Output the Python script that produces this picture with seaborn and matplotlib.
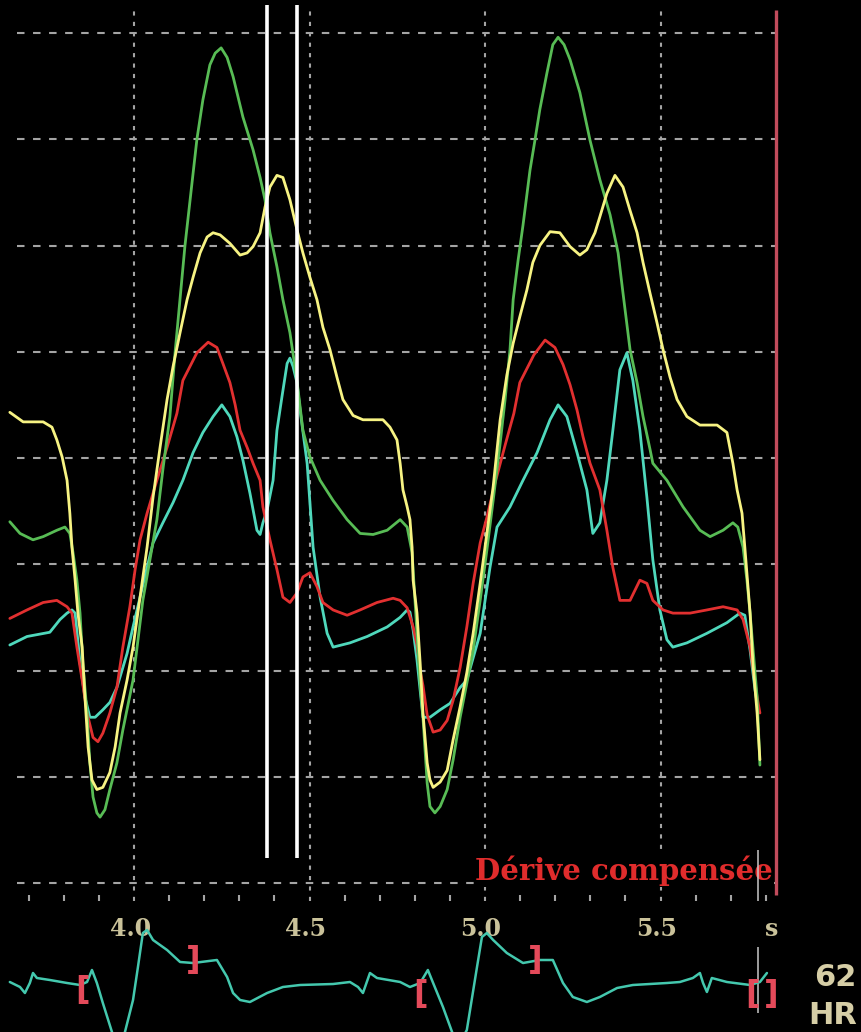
import numpy as np
import pandas as pd
import matplotlib
matplotlib.use("Agg")
import matplotlib.pyplot as plt
from matplotlib.transforms import ScaledTranslation
import seaborn as sns

# ---------------- data (time in s, pressure traces in grid units x10) ----------------
green_t = [3.646, 3.675, 3.712, 3.741, 3.780, 3.803, 3.817, 3.826, 3.837, 3.846, 3.854, 3.866, 3.874,
           3.883, 3.894, 3.903, 3.917, 3.931, 3.951, 3.968, 3.997, 4.025, 4.045, 4.065, 4.082, 4.102,
           4.117, 4.145, 4.179, 4.196, 4.216, 4.231, 4.248, 4.265, 4.282, 4.310, 4.339, 4.359, 4.373,
           4.387, 4.407, 4.424, 4.444, 4.464, 4.481, 4.501, 4.530, 4.567, 4.607, 4.644, 4.681, 4.721,
           4.758, 4.778, 4.792, 4.806, 4.815, 4.823, 4.829, 4.835, 4.843, 4.857, 4.872, 4.892, 4.909,
           4.929, 4.948, 4.966, 4.986, 5.005, 5.023, 5.043, 5.057, 5.071, 5.080, 5.094, 5.108, 5.128,
           5.142, 5.156, 5.176, 5.193, 5.208, 5.225, 5.242, 5.270, 5.299, 5.327, 5.356, 5.379, 5.393,
           5.413, 5.433, 5.450, 5.470, 5.478, 5.518, 5.564, 5.612, 5.641, 5.678, 5.706, 5.720, 5.735,
           5.746, 5.755, 5.763, 5.775, 5.783]
green_v = [34.0, 32.9, 32.3, 32.6, 33.2, 33.5, 32.9, 31.1, 28.5, 25.4, 20.7, 16.0, 11.3,
           8.1, 6.6, 6.2, 6.9, 8.8, 11.3, 14.4, 19.1, 26.6, 30.4, 34.2, 38.9, 43.9,
           50.0, 60.0, 70.0, 73.7, 77.0, 78.1, 78.6, 77.7, 75.9, 72.1, 69.0, 66.4, 64.3,
           61.2, 58.0, 54.9, 51.8, 47.3, 42.6, 40.1, 37.9, 36.0, 34.2, 32.9, 32.8, 33.2,
           34.2, 33.5, 31.1, 23.5, 18.8, 15.6, 12.5, 9.4, 7.2, 6.6, 7.2, 8.8, 11.6,
           15.6, 18.8, 21.9, 26.6, 31.3, 36.0, 41.4, 45.5, 50.2, 54.9, 58.6, 61.9, 67.1,
           69.9, 72.8, 76.2, 78.9, 79.6, 78.9, 77.5, 74.4, 69.9, 66.2, 62.9, 59.3, 55.5,
           50.2, 47.1, 43.9, 40.8, 39.5, 37.9, 35.4, 33.2, 32.6, 33.2, 33.9, 33.5, 31.6,
           28.5, 25.4, 22.2, 17.5, 11.1]

yellow_t = [3.646, 3.684, 3.741, 3.766, 3.780, 3.795, 3.809, 3.817, 3.823, 3.832, 3.840, 3.852, 3.860,
            3.869, 3.880, 3.894, 3.911, 3.931, 3.946, 3.960, 3.980, 3.997, 4.017, 4.037, 4.054, 4.074,
            4.094, 4.111, 4.131, 4.151, 4.168, 4.188, 4.208, 4.225, 4.245, 4.273, 4.302, 4.322, 4.339,
            4.359, 4.373, 4.387, 4.407, 4.424, 4.444, 4.464, 4.481, 4.501, 4.521, 4.538, 4.558, 4.578,
            4.595, 4.624, 4.652, 4.709, 4.729, 4.749, 4.758, 4.766, 4.778, 4.786, 4.792, 4.795, 4.806,
            4.815, 4.823, 4.835, 4.843, 4.852, 4.872, 4.892, 4.909, 4.929, 4.948, 4.966, 4.986, 5.005,
            5.023, 5.043, 5.062, 5.080, 5.099, 5.119, 5.136, 5.156, 5.185, 5.213, 5.242, 5.270, 5.290,
            5.313, 5.327, 5.347, 5.370, 5.393, 5.413, 5.433, 5.450, 5.470, 5.490, 5.507, 5.527, 5.547,
            5.575, 5.612, 5.661, 5.689, 5.706, 5.718, 5.732, 5.740, 5.755, 5.763, 5.775, 5.783]
yellow_v = [44.3, 43.4, 43.4, 42.9, 41.7, 40.1, 37.9, 34.8, 31.6, 28.5, 25.4, 22.2, 17.5,
            12.8, 9.7, 8.8, 9.0, 10.4, 12.8, 16.0, 19.1, 22.2, 26.9, 31.6, 36.3, 41.0,
            45.5, 48.6, 51.8, 54.9, 57.0, 59.3, 60.8, 61.2, 61.0, 60.2, 59.1, 59.3, 59.9,
            61.2, 63.6, 65.5, 66.6, 66.4, 64.3, 61.5, 59.3, 57.0, 54.9, 52.3, 50.2, 47.6,
            45.5, 44.0, 43.6, 43.6, 42.9, 41.7, 39.5, 37.0, 35.4, 34.2, 31.6, 28.5, 25.4,
            20.7, 16.0, 11.3, 9.7, 9.0, 9.5, 10.6, 13.5, 16.6, 19.8, 23.5, 28.2, 32.9,
            37.3, 43.6, 47.8, 50.8, 53.3, 55.8, 58.4, 60.0, 61.3, 61.2, 59.9, 59.1, 59.6,
            61.2, 62.7, 64.9, 66.6, 65.5, 63.3, 61.2, 58.4, 55.5, 52.7, 50.2, 47.6, 45.5,
            43.9, 43.1, 43.1, 42.4, 39.5, 37.0, 34.8, 31.6, 25.4, 20.7, 16.0, 11.6]

red_t = [3.646, 3.695, 3.741, 3.780, 3.809, 3.823, 3.837, 3.852, 3.866, 3.883, 3.897, 3.911, 3.931,
         3.951, 3.968, 3.988, 4.003, 4.017, 4.037, 4.065, 4.094, 4.122, 4.139, 4.179, 4.211, 4.236,
         4.253, 4.273, 4.288, 4.302, 4.322, 4.339, 4.359, 4.367, 4.387, 4.407, 4.424, 4.444, 4.464,
         4.481, 4.501, 4.521, 4.538, 4.567, 4.607, 4.644, 4.692, 4.738, 4.758, 4.778, 4.795, 4.806,
         4.815, 4.823, 4.835, 4.852, 4.872, 4.892, 4.909, 4.929, 4.948, 4.966, 4.986, 5.005, 5.028,
         5.057, 5.082, 5.099, 5.139, 5.171, 5.199, 5.222, 5.242, 5.262, 5.279, 5.299, 5.327, 5.347,
         5.364, 5.384, 5.413, 5.441, 5.461, 5.478, 5.507, 5.535, 5.584, 5.632, 5.678, 5.718, 5.735,
         5.755, 5.775, 5.783]
red_v = [24.9, 25.7, 26.4, 26.6, 26.0, 25.4, 22.2, 19.1, 16.0, 13.7, 13.3, 14.1, 16.0,
         18.4, 22.2, 26.0, 29.5, 32.3, 34.8, 37.9, 41.0, 44.2, 47.3, 49.9, 50.9, 50.4,
         48.9, 47.1, 45.0, 42.6, 41.0, 39.5, 37.9, 35.4, 32.3, 29.5, 26.9, 26.4, 27.3,
         28.8, 29.2, 27.9, 26.4, 25.7, 25.2, 25.7, 26.4, 26.8, 26.6, 25.9, 24.1, 22.4,
         20.0, 18.6, 15.8, 14.2, 14.4, 15.3, 17.2, 20.3, 24.1, 28.2, 32.0, 34.4, 37.6,
         41.2, 44.2, 47.1, 49.7, 51.1, 50.4, 48.8, 46.9, 44.5, 42.0, 39.5, 37.0, 33.2,
         29.7, 26.6, 26.6, 28.5, 28.2, 26.6, 25.7, 25.4, 25.4, 25.7, 26.0, 25.7, 24.8,
         22.2, 17.5, 16.0]

cyan_t = [3.646, 3.695, 3.760, 3.789, 3.809, 3.823, 3.832, 3.846, 3.860, 3.874, 3.889, 3.911, 3.931,
          3.951, 3.980, 3.997, 4.017, 4.037, 4.054, 4.082, 4.111, 4.139, 4.168, 4.196, 4.225, 4.250,
          4.273, 4.293, 4.310, 4.330, 4.350, 4.359, 4.367, 4.379, 4.396, 4.407, 4.421, 4.436, 4.444,
          4.453, 4.464, 4.473, 4.493, 4.510, 4.530, 4.550, 4.567, 4.615, 4.664, 4.721, 4.758, 4.778,
          4.786, 4.795, 4.806, 4.823, 4.843, 4.872, 4.900, 4.929, 4.948, 4.986, 5.014, 5.034, 5.071,
          5.108, 5.148, 5.185, 5.208, 5.233, 5.262, 5.290, 5.307, 5.327, 5.347, 5.364, 5.384, 5.404,
          5.421, 5.441, 5.461, 5.478, 5.498, 5.518, 5.535, 5.575, 5.632, 5.689, 5.726, 5.740, 5.755,
          5.769, 5.778]
cyan_v = [22.4, 23.2, 23.6, 24.8, 25.4, 25.7, 25.4, 20.7, 17.5, 15.6, 15.6, 16.3, 17.0,
          18.4, 21.6, 24.1, 26.9, 29.7, 32.0, 33.9, 35.8, 37.9, 40.5, 42.4, 43.9, 45.0,
          43.9, 42.0, 39.8, 36.7, 33.2, 32.8, 33.9, 35.1, 37.9, 42.6, 45.7, 48.9, 49.4,
          48.6, 47.1, 44.5, 39.5, 31.6, 26.9, 23.5, 22.2, 22.6, 23.2, 24.1, 25.0, 25.7,
          25.5, 23.8, 21.0, 15.6, 15.6, 16.3, 16.9, 18.4, 19.1, 23.5, 29.7, 33.5, 35.4,
          37.9, 40.5, 43.6, 45.0, 43.9, 40.5, 37.0, 32.9, 33.9, 37.9, 42.6, 48.3, 49.9,
          47.3, 42.6, 36.3, 30.4, 25.7, 22.9, 22.2, 22.6, 23.5, 24.5, 25.4, 25.2, 21.9,
          18.2, 16.3]

# ECG strip (mV-like units)
ecg_t = [3.646, 3.675, 3.689, 3.703, 3.712, 3.723, 3.760, 3.809, 3.846, 3.866, 3.880, 3.894, 3.911,
         3.937, 3.954, 3.974, 3.997, 4.011, 4.025, 4.037, 4.054, 4.094, 4.131, 4.168, 4.236, 4.265,
         4.282, 4.302, 4.330, 4.379, 4.424, 4.473, 4.567, 4.615, 4.638, 4.652, 4.672, 4.692, 4.758,
         4.786, 4.815, 4.837, 4.852, 4.880, 4.906, 4.926, 4.948, 4.977, 4.991, 5.005, 5.023, 5.062,
         5.108, 5.156, 5.193, 5.222, 5.250, 5.290, 5.327, 5.376, 5.421, 5.518, 5.555, 5.592, 5.612,
         5.621, 5.632, 5.646, 5.689, 5.755, 5.783, 5.803]
ecg_v = [0.06, -0.04, -0.16, 0.04, 0.24, 0.14, 0.10, 0.04, 0.00, 0.06, 0.30, 0.04, -0.36,
         -0.94, -1.20, -0.94, -0.30, 0.36, 1.04, 1.10, 0.90, 0.70, 0.46, 0.44, 0.50, 0.16,
         -0.16, -0.30, -0.34, -0.16, -0.04, 0.00, 0.02, 0.06, -0.04, -0.16, 0.24, 0.14, 0.06,
         -0.04, 0.04, 0.30, 0.04, -0.44, -0.94, -1.20, -0.90, 0.36, 0.96, 1.04, 0.90, 0.64,
         0.44, 0.50, 0.50, 0.04, -0.24, -0.34, -0.24, -0.06, 0.00, 0.04, 0.06, 0.14, 0.24,
         0.04, -0.14, 0.14, 0.06, 0.00, 0.06, 0.24]

# beat markers on the ECG strip
mark_t = [3.854, 4.168, 4.815, 5.142, 5.763, 5.816]
mark_v = [-0.10, 0.50, -0.20, 0.50, -0.18, -0.18]
mark_glyph = ["[", "]", "[", "]", "[", "]"]

# axis annotations
tick_pos = [4.0, 4.5, 5.0, 5.5, 5.829]
tick_lab = ["4.0", "4.5", "5.0", "5.5", "s"]
minor_pos = [round(3.7 + 0.1 * i, 1) for i in range(22)]
grid_levels = [0, 10, 20, 30, 40, 50, 60, 70, 80]
grid_times = [4.0, 4.5, 5.0, 5.5]
cursor_t = [4.379, 4.464]
end_t = 5.829
marker_line_t = 5.778
hr_value = "62"
hr_label = "HR"
drift_text = "Dérive compensée"

# ---------------- styling ----------------
sns.set_style("dark", rc={"axes.facecolor": "black", "figure.facecolor": "black"})
plt.rcParams["font.family"] = ["DejaVu Sans"]

W, H = 861, 1032
fig = plt.figure(figsize=(W / 100, H / 100), dpi=100, facecolor="black")
xlim = (3.618, 3.618 + W / 351)

ax = fig.add_axes([0, 131 / H, 1, 901 / H])
ax.set_facecolor("black")
ax.set_xlim(xlim)
ax.set_ylim(-18 / 10.625, 883 / 10.625)
for s in ax.spines.values():
    s.set_visible(False)

gridc = "#a4a4a4"
ax.hlines(grid_levels, 3.666, 5.826, colors=gridc, linewidth=1.5,
          linestyles=(0, (3.6, 4.1)), zorder=1)
ax.vlines(grid_times, -1.7, 82.2, colors=gridc, linewidth=1.5,
          linestyles=(0, (2.0, 3.0)), zorder=1)

colors = {"green": "#58bc55", "cyan": "#4fd8bc", "red": "#e23030", "yellow": "#f7f383"}
df = pd.concat([
    pd.DataFrame({"time": green_t, "value": green_v, "signal": "green"}),
    pd.DataFrame({"time": cyan_t, "value": cyan_v, "signal": "cyan"}),
    pd.DataFrame({"time": red_t, "value": red_v, "signal": "red"}),
    pd.DataFrame({"time": yellow_t, "value": yellow_v, "signal": "yellow"}),
], ignore_index=True)
for name in ["cyan", "red", "green", "yellow"]:
    sub = df[df["signal"] == name]
    sns.lineplot(data=sub, x="time", y="value", color=colors[name], estimator=None,
                 sort=False, linewidth=2.0, ax=ax, legend=False, zorder=3)

# cursors and end line
ax.vlines(cursor_t, 2.35, 82.6, colors="white", linewidth=2.6, zorder=5)
ax.vlines([end_t], -1.13, 82.2, colors="#c24c5c", linewidth=2.4, zorder=5)
ax.vlines([marker_line_t], -1.7, 3.1, colors="#c8c8c8", linewidth=1.1, zorder=5)

ax.text(5.820, 0.28, drift_text, ha="right", va="baseline", color="#e02c2c",
        fontsize=21, fontweight="bold", family="DejaVu Serif", zorder=4,
        bbox=dict(facecolor="black", edgecolor="none", pad=1.0))

ax.set_xticks(tick_pos)
ax.set_xticklabels(tick_lab)
ax.set_xticks(minor_pos, minor=True)
ax.set_yticks([])
ax.tick_params(axis="x", which="major", length=0, pad=11.5, labelsize=17,
               labelcolor="#cac29a")
ax.tick_params(axis="x", which="minor", direction="in", length=4.3, width=1.5,
               color=gridc, bottom=True)
for lab in ax.get_xticklabels():
    lab.set_fontfamily("DejaVu Serif")
    lab.set_fontweight("bold")
    lab.set_transform(lab.get_transform() + ScaledTranslation(-4 / 100, 0, fig.dpi_scale_trans))
ax.set_xlabel("")
ax.set_ylabel("")
ax.grid(False)

# ECG strip
axe = fig.add_axes([0, 0, 1, 107 / H])
axe.patch.set_visible(False)
axe.set_xlim(xlim)
axe.set_ylim(-0.94, 1.2)
for s in axe.spines.values():
    s.set_visible(False)
axe.set_xticks([])
axe.set_yticks([])
axe.grid(False)
sns.lineplot(x=ecg_t, y=ecg_v, color="#44c8ae", estimator=None, sort=False,
             linewidth=1.8, ax=axe, zorder=3)
axe.vlines([marker_line_t], -0.56, 0.76, colors="#c8c8c8", linewidth=1.1, zorder=2)
for t, v, g in zip(mark_t, mark_v, mark_glyph):
    axe.text(t, v, g, ha="center", va="center", color="#e44a5a", fontsize=23,
             fontweight="bold", zorder=4)
axe.set_xlabel("")
axe.set_ylabel("")

fig.text(857 / W, 1 - 977 / H, hr_value, ha="right", va="center", color="#d6cea6",
         fontsize=22, fontweight="bold")
fig.text(857 / W, 1 - 1015 / H, hr_label, ha="right", va="center", color="#d6cea6",
         fontsize=22, fontweight="bold")

fig.savefig("out.png", dpi=100, facecolor="black")
